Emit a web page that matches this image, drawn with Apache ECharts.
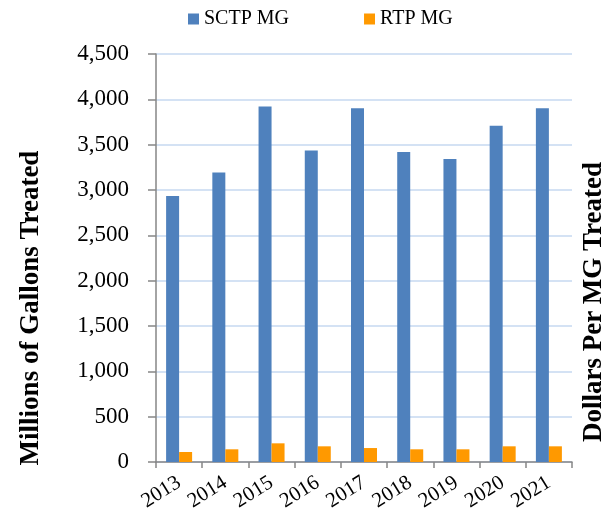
<!DOCTYPE html>
<html>
<head>
<meta charset="utf-8">
<script src="https://cdn.jsdelivr.net/npm/echarts@6/dist/echarts.min.js"></script>
<style>
  html, body { margin: 0; padding: 0; background: #fff; }
  #chart { width: 605px; height: 519px; }
</style>
</head>
<body>
<div id="chart"></div>
<script>
var years = ['2013', '2014', '2015', '2016', '2017', '2018', '2019', '2020', '2021'];
var sctpMG = [2933, 3194, 3922, 3437, 3903, 3418, 3341, 3708, 3903];
var rtpMG = [110, 140, 206, 173, 154, 140, 140, 173, 173];
var yTicks = [0, 500, 1000, 1500, 2000, 2500, 3000, 3500, 4000, 4500];

var serif = '"Liberation Serif", "Times New Roman", serif';

var myChart = echarts.init(document.getElementById('chart'));

var option = {
    color: ['#4f81bd', '#ff9900'],
    textStyle: { fontFamily: serif },
    legend: {
        top: 4,
        left: 183,
        itemWidth: 11,
        itemHeight: 11,
        itemGap: 75,
        icon: 'rect',
        textStyle: { fontFamily: serif, fontSize: 20, color: '#000' },
        data: ['SCTP MG', 'RTP MG']
    },
    grid: {
        left: 156,
        right: 33,
        top: 54,
        bottom: 57,
        containLabel: false
    },
    // axis titles (sit lower than the plot centre in the original)
    graphic: [
        {
            type: 'text',
            x: 31,
            y: 308,
            rotation: Math.PI / 2,
            style: {
                text: 'Millions of Gallons Treated',
                font: 'bold 27px ' + serif,
                fill: '#000',
                align: 'center',
                verticalAlign: 'middle'
            }
        },
        {
            type: 'text',
            x: 594,
            y: 302,
            rotation: Math.PI / 2,
            style: {
                text: 'Dollars Per MG Treated',
                font: 'bold 27px ' + serif,
                fill: '#000',
                align: 'center',
                verticalAlign: 'middle'
            }
        }
    ],
    xAxis: {
        type: 'category',
        data: years,
        axisLine: { lineStyle: { color: '#868686', width: 1.5 } },
        axisTick: { show: true, length: 6, lineStyle: { color: '#868686', width: 1.5 } },
        axisLabel: {
            interval: 0,
            rotate: 32,
            margin: 19,
            fontFamily: serif,
            fontSize: 21,
            color: '#000'
        }
    },
    yAxis: [
        {
            type: 'value',
            min: yTicks[0],
            max: yTicks[yTicks.length - 1],
            interval: 500,
            axisLine: { show: true, lineStyle: { color: '#868686', width: 1.5 } },
            axisTick: { show: true, length: 8, lineStyle: { color: '#868686', width: 1.5 } },
            axisLabel: {
                fontFamily: serif,
                fontSize: 23,
                color: '#000',
                margin: 27,
                formatter: function (v) { return v.toLocaleString('en-US'); }
            },
            splitLine: { show: true, lineStyle: { color: '#c6d9f1', width: 1.5 } }
        }
    ],
    series: [
        {
            name: 'SCTP MG',
            type: 'bar',
            barWidth: 13,
            barGap: '0%',
            data: sctpMG
        },
        {
            name: 'RTP MG',
            type: 'bar',
            barWidth: 13,
            barGap: '0%',
            data: rtpMG
        }
    ]
};

myChart.setOption(option, true);
</script>
</body>
</html>
